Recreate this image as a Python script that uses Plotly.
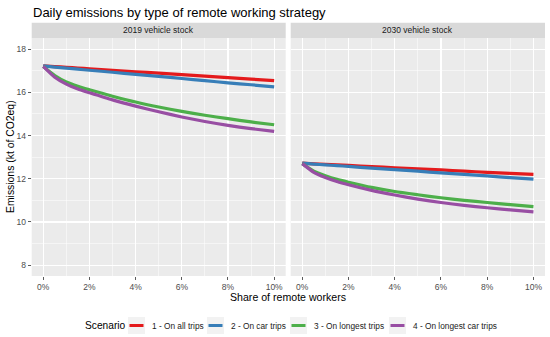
import plotly.graph_objects as go

# ---------------- data ----------------
share_pct = [0, 0.5, 1, 1.5, 2, 3, 4, 5, 6, 7, 8, 9, 10]

scenarios = ["1 - On all trips", "2 - On car trips", "3 - On longest trips", "4 - On longest car trips"]
colors = ["#E41A1C", "#377EB8", "#4DAF4A", "#984EA3"]
panels = ["2019 vehicle stock", "2030 vehicle stock"]

# 2019 vehicle stock
s2019_all = [17.22, 17.19, 17.16, 17.12, 17.09, 17.02, 16.95, 16.89, 16.82, 16.75, 16.68, 16.61, 16.54]
s2019_car = [17.22, 17.17, 17.12, 17.07, 17.02, 16.93, 16.83, 16.74, 16.64, 16.54, 16.44, 16.35, 16.25]
s2019_longest = [17.20, 16.78, 16.48, 16.28, 16.12, 15.82, 15.55, 15.32, 15.12, 14.94, 14.78, 14.63, 14.50]
s2019_longest_car = [17.20, 16.70, 16.38, 16.15, 15.98, 15.65, 15.36, 15.10, 14.86, 14.65, 14.47, 14.32, 14.19]

# 2030 vehicle stock
s2030_all = [12.72, 12.69, 12.67, 12.64, 12.62, 12.56, 12.51, 12.46, 12.41, 12.35, 12.30, 12.25, 12.20]
s2030_car = [12.72, 12.68, 12.64, 12.61, 12.57, 12.49, 12.42, 12.35, 12.27, 12.20, 12.13, 12.05, 11.98]
s2030_longest = [12.70, 12.35, 12.14, 11.97, 11.84, 11.60, 11.41, 11.26, 11.12, 11.00, 10.90, 10.80, 10.71]
s2030_longest_car = [12.70, 12.30, 12.06, 11.87, 11.72, 11.46, 11.25, 11.06, 10.90, 10.77, 10.66, 10.56, 10.47]

panel_series = [
    [s2019_all, s2019_car, s2019_longest, s2019_longest_car],
    [s2030_all, s2030_car, s2030_longest, s2030_longest_car],
]

x_ticks = [0, 2, 4, 6, 8, 10]
x_ticklabels = ["0%", "2%", "4%", "6%", "8%", "10%"]
y_ticks = [8, 10, 12, 14, 16, 18]

title = "Daily emissions by type of remote working strategy"
x_title = "Share of remote workers"
y_title = "Emissions (kt of CO2eq)"
legend_title = "Scenario"

# ---------------- figure ----------------
W, H = 550, 337
FONT = "Liberation Sans, Arial, sans-serif"

def px_x(p):
    return p / W

def px_y(p):
    return 1 - p / H

fig = go.Figure()

for pi, series in enumerate(panel_series):
    xa = "x" if pi == 0 else "x2"
    ya = "y" if pi == 0 else "y2"
    for si, vals in enumerate(series):
        fig.add_trace(go.Scatter(
            x=share_pct, y=vals, mode="lines",
            line=dict(color=colors[si], width=3.2, shape="spline", smoothing=0.6),
            name=scenarios[si], showlegend=False, xaxis=xa, yaxis=ya,
            hoverinfo="skip",
        ))

panel_top, panel_bot = 38.3, 276.0
strip_top = 22.7
p1 = (31.7, 285.7)
p2 = (290.7, 545.0)

axis_common = dict(
    range=[-0.5, 10.5], tickvals=x_ticks, ticktext=x_ticklabels,
    showgrid=True, gridcolor="white", gridwidth=1.1,
    minor=dict(dtick=1, tick0=0, showgrid=True, gridcolor="white", gridwidth=0.5),
    zeroline=False, showline=False,
    ticks="outside", ticklen=3, tickcolor="#333333", tickwidth=0.8,
    tickfont=dict(family=FONT, size=8.5, color="#4D4D4D"),
    fixedrange=True,
)
yaxis_common = dict(
    range=[7.5, 18.5], tickvals=y_ticks,
    showgrid=True, gridcolor="white", gridwidth=1.1,
    minor=dict(dtick=1, tick0=7, showgrid=True, gridcolor="white", gridwidth=0.5),
    zeroline=False, showline=False,
    domain=[px_y(panel_bot), px_y(panel_top)],
    fixedrange=True,
)

fig.update_layout(
    width=W, height=H,
    margin=dict(l=0, r=0, t=0, b=0),
    paper_bgcolor="white", plot_bgcolor="#EBEBEB",
    font=dict(family=FONT, color="#1A1A1A"),
    xaxis=dict(domain=[px_x(p1[0]), px_x(p1[1])], anchor="y", **axis_common),
    xaxis2=dict(domain=[px_x(p2[0]), px_x(p2[1])], anchor="y2", **axis_common),
    yaxis=dict(anchor="x", ticks="outside", ticklen=3, tickcolor="#333333", tickwidth=0.8,
               tickfont=dict(family=FONT, size=8.5, color="#4D4D4D"), **yaxis_common),
    yaxis2=dict(anchor="x2", matches="y", showticklabels=False, ticks="", **yaxis_common),
    showlegend=False,
)

# strips
for (x0, x1), label in zip([p1, p2], panels):
    fig.add_shape(type="rect", xref="paper", yref="paper",
                  x0=px_x(x0), x1=px_x(x1), y0=px_y(panel_top), y1=px_y(strip_top),
                  fillcolor="#D9D9D9", line=dict(width=0), layer="below")
    fig.add_annotation(text=label, xref="paper", yref="paper",
                       x=px_x((x0 + x1) / 2), y=px_y((panel_top + strip_top) / 2),
                       xanchor="center", yanchor="middle", showarrow=False,
                       font=dict(family=FONT, size=8.5, color="#1A1A1A"))

# title
fig.add_annotation(text=title, xref="paper", yref="paper", x=px_x(31), y=px_y(12),
                   xanchor="left", yanchor="middle", showarrow=False,
                   font=dict(family=FONT, size=13, color="#000000"))
# x axis title
fig.add_annotation(text=x_title, xref="paper", yref="paper", x=px_x(288), y=px_y(296.5),
                   xanchor="center", yanchor="middle", showarrow=False,
                   font=dict(family=FONT, size=10.6, color="#000000"))
# y axis title
fig.add_annotation(text=y_title, xref="paper", yref="paper", x=px_x(10), y=px_y(157),
                   xanchor="center", yanchor="middle", showarrow=False, textangle=-90,
                   font=dict(family=FONT, size=10.4, color="#000000"))

# legend (ggplot-style, bottom)
leg_y = 325.5
fig.add_annotation(text=legend_title, xref="paper", yref="paper", x=px_x(82.5), y=px_y(leg_y),
                   xanchor="left", yanchor="middle", showarrow=False,
                   font=dict(family=FONT, size=10.2, color="#000000"))
key_left = [128, 207, 290, 389]
key_w = 17
for kx, name, col in zip(key_left, scenarios, colors):
    fig.add_shape(type="rect", xref="paper", yref="paper",
                  x0=px_x(kx), x1=px_x(kx + key_w), y0=px_y(leg_y + 8.5), y1=px_y(leg_y - 8.5),
                  fillcolor="#F2F2F2", line=dict(width=0))
    fig.add_shape(type="line", xref="paper", yref="paper",
                  x0=px_x(kx + 1.5), x1=px_x(kx + key_w - 1.5), y0=px_y(leg_y), y1=px_y(leg_y),
                  line=dict(color=col, width=3))
    fig.add_annotation(text=name, xref="paper", yref="paper", x=px_x(kx + key_w + 5), y=px_y(leg_y),
                       xanchor="left", yanchor="middle", showarrow=False,
                       font=dict(family=FONT, size=8.3, color="#1A1A1A"))

fig.write_html(
    "out.html",
    config={"displayModeBar": False, "staticPlot": True},
    post_script="document.body.style.margin='0px';document.body.style.overflow='hidden';",
)
